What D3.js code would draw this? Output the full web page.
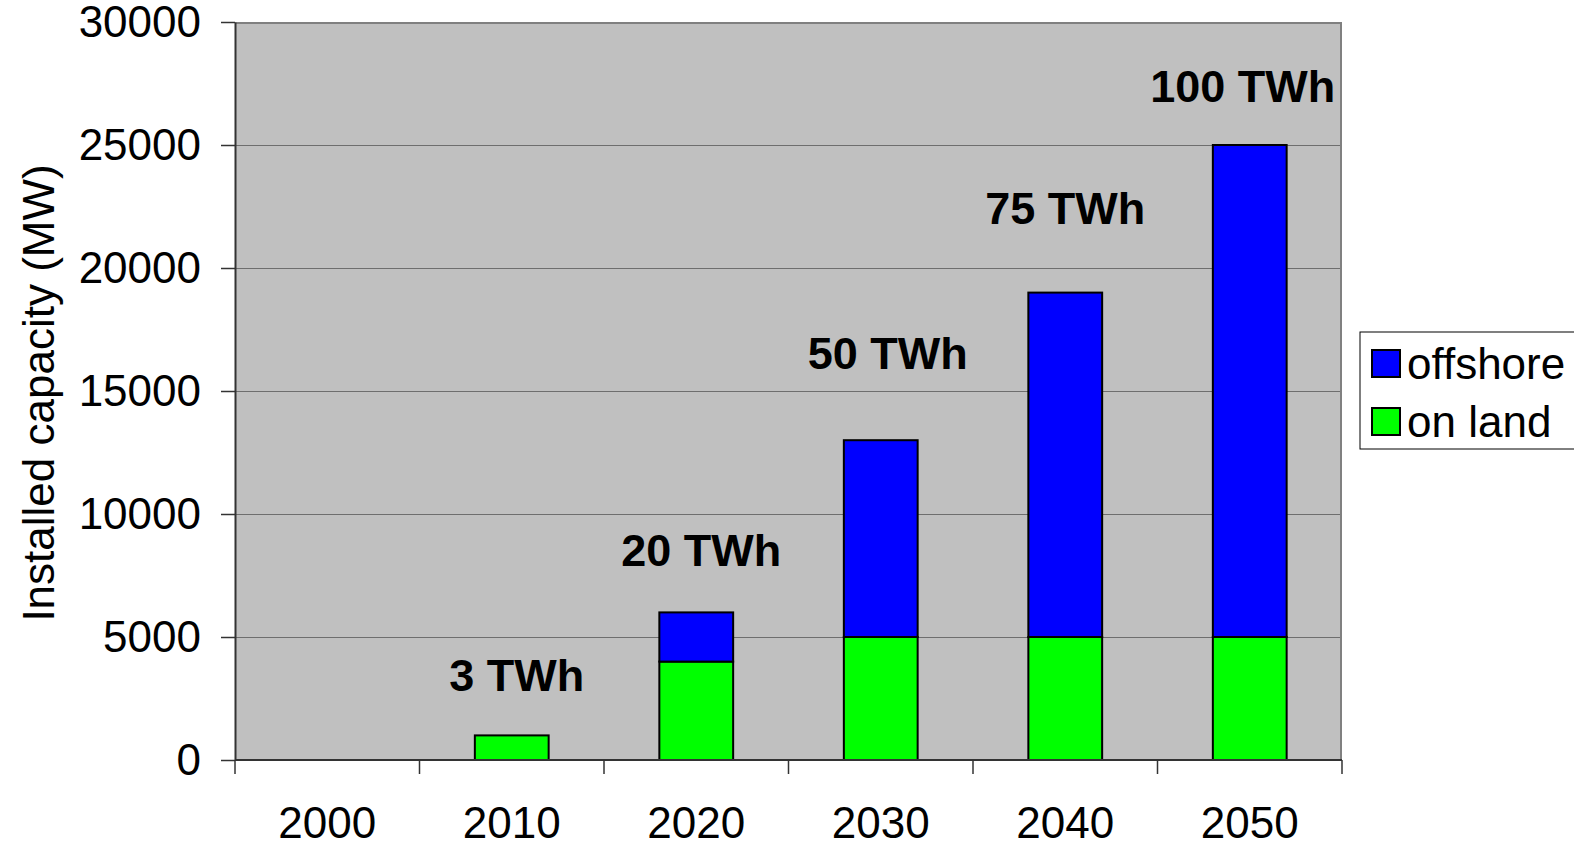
<!DOCTYPE html>
<html>
<head>
<meta charset="utf-8">
<script src="https://cdn.jsdelivr.net/npm/d3@7"></script>
<style>
  body { margin: 0; background: #fff; }
  svg { display: block; font-family: "Liberation Sans", Arial, sans-serif; }
</style>
</head>
<body>
<div id="chart"></div>
<script>
// data
const years = ["2000", "2010", "2020", "2030", "2040", "2050"];
const onLand = [0, 1000, 4000, 5000, 5000, 5000];
const offshore = [0, 0, 2000, 8000, 14000, 20000];
const energyLabels = ["", "3 TWh", "20 TWh", "50 TWh", "75 TWh", "100 TWh"];
const energyLabelY = [null, 3430, 8530, 16530, 22410, 27400];
const yTicks = [0, 5000, 10000, 15000, 20000, 25000, 30000];

const width = 1574, height = 842;
const margin = { top: 22, right: 232, bottom: 82, left: 235 };
const plotW = width - margin.left - margin.right;
const plotH = height - margin.top - margin.bottom;

const svg = d3.select("#chart").append("svg")
    .attr("width", width)
    .attr("height", height);

const g = svg.append("g")
    .attr("transform", `translate(${margin.left}, ${margin.top})`);

const xScale = d3.scaleBand()
    .domain(years)
    .range([0, plotW])
    .paddingInner(0.6)
    .paddingOuter(0.3);

const yScale = d3.scaleLinear()
    .domain([0, 30000])
    .range([plotH, 0]);

// plot area
g.append("rect")
    .attr("width", plotW)
    .attr("height", plotH)
    .attr("fill", "#c0c0c0");

// gridlines
g.append("g")
    .selectAll("line")
    .data(yTicks.filter(d => d > 0 && d < 30000))
    .enter().append("line")
    .attr("x1", 0)
    .attr("x2", plotW)
    .attr("y1", d => yScale(d) + 0.5)
    .attr("y2", d => yScale(d) + 0.5)
    .attr("stroke", "#6e6e6e")
    .attr("stroke-width", 1);

// border top + right
g.append("path")
    .attr("d", `M0,1 H${plotW - 1} V${plotH}`)
    .attr("fill", "none")
    .attr("stroke", "#808080")
    .attr("stroke-width", 2);

// stacked bars
const series = years.map((y, i) => ({ year: y, land: onLand[i], off: offshore[i] }));

const barG = g.append("g");
barG.selectAll(".land")
    .data(series.filter(d => d.land > 0))
    .enter().append("rect")
    .attr("class", "land")
    .attr("x", d => xScale(d.year))
    .attr("width", xScale.bandwidth())
    .attr("y", d => yScale(d.land))
    .attr("height", d => yScale(0) - yScale(d.land))
    .attr("fill", "#00ff00")
    .attr("stroke", "#000")
    .attr("stroke-width", 2);

barG.selectAll(".off")
    .data(series.filter(d => d.off > 0))
    .enter().append("rect")
    .attr("class", "off")
    .attr("x", d => xScale(d.year))
    .attr("width", xScale.bandwidth())
    .attr("y", d => yScale(d.land + d.off))
    .attr("height", d => yScale(d.land) - yScale(d.land + d.off))
    .attr("fill", "#0000ff")
    .attr("stroke", "#000")
    .attr("stroke-width", 2);

// TWh labels (sit a touch off the bar centre, as in the original)
const labelNudge = [0, 5, 5, 7, 0, -7];
g.append("g")
    .selectAll("text")
    .data(years.map((y, i) => ({ year: y, label: energyLabels[i], v: energyLabelY[i], dx: labelNudge[i] })).filter(d => d.label))
    .enter().append("text")
    .attr("x", d => xScale(d.year) + xScale.bandwidth() / 2 + d.dx)
    .attr("y", d => yScale(d.v))
    .attr("dy", "0.35em")
    .attr("text-anchor", "middle")
    .attr("font-size", 45)
    .attr("font-weight", "bold")
    .text(d => d.label);

// axes
const yAxis = d3.axisLeft(yScale).tickValues(yTicks).tickFormat(d3.format("d"))
    .tickSizeInner(14).tickSizeOuter(0).tickPadding(20);
const yAxisGroup = g.append("g").call(yAxis);
yAxisGroup.select(".domain").attr("stroke", "#333").attr("stroke-width", 2);
yAxisGroup.selectAll(".tick line").attr("stroke", "#333").attr("stroke-width", 1.5);
yAxisGroup.selectAll("text").attr("font-size", 44).attr("fill", "#000")
    .attr("font-family", "Liberation Sans, Arial, sans-serif");

const xBound = d3.scaleLinear().domain([0, years.length]).range([0, plotW]);
const xAxisGroup = g.append("g").attr("transform", `translate(0, ${plotH})`);
xAxisGroup.append("line")
    .attr("x1", 0).attr("x2", plotW)
    .attr("stroke", "#333").attr("stroke-width", 2);
xAxisGroup.selectAll(".tk")
    .data(d3.range(years.length + 1))
    .enter().append("line")
    .attr("x1", d => xBound(d)).attr("x2", d => xBound(d))
    .attr("y1", 0).attr("y2", 14)
    .attr("stroke", "#333").attr("stroke-width", 1.5);
xAxisGroup.selectAll(".lbl")
    .data(years)
    .enter().append("text")
    .attr("x", d => xScale(d) + xScale.bandwidth() / 2)
    .attr("y", 78)
    .attr("text-anchor", "middle")
    .attr("font-size", 44)
    .text(d => d);

// y title
svg.append("text")
    .attr("transform", `translate(38, ${margin.top + plotH / 2 + 2}) rotate(-90)`)
    .attr("text-anchor", "middle")
    .attr("dominant-baseline", "central")
    .attr("font-size", 44)
    .text("Installed capacity (MW)");

// legend
const legend = svg.append("g").attr("transform", "translate(1360, 332)");
legend.append("rect")
    .attr("width", 240)
    .attr("height", 117)
    .attr("fill", "#fff")
    .attr("stroke", "#000")
    .attr("stroke-width", 1);

const legendItems = [
    { name: "offshore", color: "#0000ff" },
    { name: "on land", color: "#00ff00" }
];
const li = legend.selectAll(".li")
    .data(legendItems)
    .enter().append("g")
    .attr("transform", (d, i) => `translate(12, ${18 + i * 58})`);
li.append("rect")
    .attr("width", 28)
    .attr("height", 27)
    .attr("fill", d => d.color)
    .attr("stroke", "#000")
    .attr("stroke-width", 2);
li.append("text")
    .attr("x", 35)
    .attr("y", 14)
    .attr("dy", "0.35em")
    .attr("font-size", 44)
    .text(d => d.name);
</script>
</body>
</html>
